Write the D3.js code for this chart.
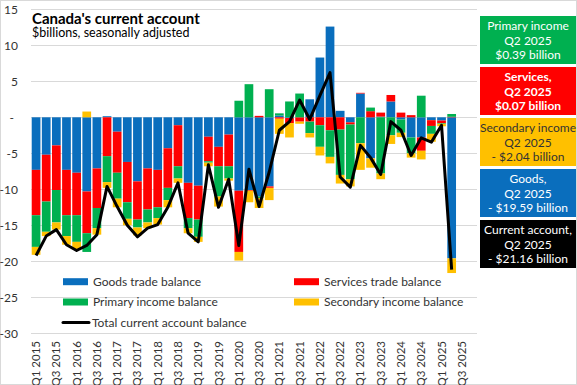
<!doctype html>
<html lang="en">
   <head>
      <meta charset="utf-8">
      <title>Canada's current account</title>
      <script src="https://d3js.org/d3.v7.min.js"></script>
      <style>
         body { margin: 0; background: #fff; }
         svg { display: block; font-family: Lato, "Open Sans", sans-serif; }
      </style>
   </head>
   <body>
      <svg id="chart" width="577" height="385"></svg>
      <script>
      // quarters on the axis (last two have no data yet)
      var quarters = ["Q1 2015", "Q2 2015", "Q3 2015", "Q4 2015", "Q1 2016", "Q2 2016", "Q3 2016", "Q4 2016",
         "Q1 2017", "Q2 2017", "Q3 2017", "Q4 2017", "Q1 2018", "Q2 2018", "Q3 2018", "Q4 2018",
         "Q1 2019", "Q2 2019", "Q3 2019", "Q4 2019", "Q1 2020", "Q2 2020", "Q3 2020", "Q4 2020",
         "Q1 2021", "Q2 2021", "Q3 2021", "Q4 2021", "Q1 2022", "Q2 2022", "Q3 2022", "Q4 2022",
         "Q1 2023", "Q2 2023", "Q3 2023", "Q4 2023", "Q1 2024", "Q2 2024", "Q3 2024", "Q4 2024",
         "Q1 2025", "Q2 2025", "Q3 2025", "Q4 2025"];

      // $ billions, seasonally adjusted
      var goods = [-7.3, -5.2, -3.9, -7.3, -7.7, -10.3, -7.1, 0.15, -2.0, -6.2, -8.9, -7.1, -7.3, -4.3, -1.1, -9.1,
         -9.5, -2.7, -4.1, -2.4, -10.2, -10.1, -11.0, -9.6, 0.25, -0.1, 0.0, 2.5, 8.3, 12.6, 0.9, -0.7,
         3.3, -5.7, 0.1, 2.2, -0.3, -2.8, -2.8, -0.4, -0.45, -19.59];
      var services = [-6.3, -6.5, -6.2, -6.3, -5.9, -5.8, -5.5, -5.4, -5.7, -5.6, -5.3, -5.7, -5.2, -5.5, -5.7, -4.9,
         -4.7, -3.4, -2.7, -4.4, -8.5, -0.1, 0.2, -0.2, -0.2, -0.7, -0.6, -0.6, -1.1, -1.8, -1.7, -0.3,
         0.1, 0.85, 0.55, 0.9, 0.65, 0.3, -1.85, -0.8, -0.35, 0.07];
      var primary = [-4.4, -4.2, -4.5, -2.9, -3.7, -2.6, -2.8, -3.6, -3.6, -2.3, -1.1, -1.8, -1.5, -1.7, -1.7, -1.4,
         -2.4, -0.2, -4.2, -1.7, 2.3, 4.6, -0.2, 3.9, 0.3, 2.2, 3.3, -1.6, -3.0, -3.7, -6.3, -7.6,
         -3.6, 0.5, -7.8, -2.5, -1.85, -2.2, 3.0, -1.1, -0.1, 0.39];
      var secondary = [-1.1, -0.6, -1.0, -1.2, -1.0, 0.8, -0.9, -0.8, -1.2, -0.9, -1.1, -0.8, -0.9, -1.0, -0.6, -0.7,
         -0.7, -0.5, -1.4, -0.3, -1.2, -1.6, -1.4, -1.7, -2.1, -2.0, -0.3, -0.6, -1.2, -0.9, -1.2, -1.0,
         -3.7, -1.3, -0.8, -1.2, -0.6, -0.6, -1.2, -1.1, -0.35, -2.04];
      var total = [-19.2, -16.5, -15.6, -17.7, -18.5, -17.8, -16.3, -9.6, -12.4, -15.0, -16.6, -15.4, -14.9, -12.5, -9.1, -16.1,
         -17.3, -6.6, -12.5, -8.6, -17.8, -7.2, -12.4, -7.6, -1.8, -0.6, 2.4, -0.3, 3.0, 6.2, -8.3, -9.7,
         -3.9, -5.6, -7.95, -0.6, -1.8, -5.3, -2.85, -3.45, -1.1, -21.16];

      var seriesNames = ["Goods trade balance", "Services trade balance", "Primary income balance", "Secondary income balance"];
      var seriesKeys = ["goods", "services", "primary", "secondary"];
      var colors = {goods: "#0A6EBD", services: "#FF0000", primary: "#00B050", secondary: "#FFC000"};
      var yTicks = [15, 10, 5, 0, -5, -10, -15, -20, -25, -30];

      // callout boxes on the right
      var boxKeys = ["primary", "services", "secondary", "goods", "total"];
      var boxLines = [
         ["Primary income", "Q2 2025", "$0.39 billion"],
         ["Services,", "Q2 2025", "$0.07 billion"],
         ["Secondary income", "Q2 2025", "- $2.04 billion"],
         ["Goods,", "Q2 2025", "- $19.59 billion"],
         ["Current account,", "Q2 2025", "- $21.16 billion"]
      ];

      var svg = d3.select("#chart");
      var W = 577, H = 385;

      svg.append("rect").attr("x", 0.5).attr("y", 0.5).attr("width", W - 1).attr("height", H - 1)
         .attr("fill", "#fff").attr("stroke", "#d9d9d9");

      var x = d3.scaleBand().domain(quarters).range([31, 477]).paddingInner(0.14).paddingOuter(0.07);
      var y = d3.scaleLinear().domain([-30, 15]).range([333.3, 9.3]);

      // gridlines
      svg.append("g").selectAll("line").data(yTicks).enter().append("line")
         .attr("x1", 31).attr("x2", 477)
         .attr("y1", function(d) { return Math.round(y(d)) + 0.5; })
         .attr("y2", function(d) { return Math.round(y(d)) + 0.5; })
         .attr("stroke", "#d9d9d9").attr("stroke-width", 1);

      // y labels
      svg.append("g").selectAll("text").data(yTicks).enter().append("text")
         .attr("x", function(d) { return d === 0 ? 14 : 18; })
         .attr("y", function(d) { return y(d); })
         .attr("dy", "0.35em")
         .attr("text-anchor", "end")
         .attr("font-size", 12)
         .attr("fill", "#333")
         .text(function(d) { return d === 0 ? "-" : d; });

      // x labels, every second quarter
      svg.append("g").selectAll("text").data(quarters.filter(function(d, i) { return i % 2 === 0 && i < 43; }))
         .enter().append("text")
         .attr("transform", function(d) {
            return "translate(" + (x(d) + x.bandwidth() / 2 + 4) + ",341) rotate(-90)";
         })
         .attr("text-anchor", "end")
         .attr("font-size", 11.5)
         .attr("fill", "#333")
         .text(function(d) { return d; });

      var table = goods.map(function(g, i) {
         return {q: quarters[i], goods: g, services: services[i], primary: primary[i], secondary: secondary[i]};
      });

      var stack = d3.stack().keys(seriesKeys).offset(d3.stackOffsetDiverging);
      var layers = stack(table);

      svg.append("g").selectAll("g").data(layers).enter().append("g")
         .attr("fill", function(d) { return colors[d.key]; })
         .selectAll("rect").data(function(d) { return d; }).enter().append("rect")
         .attr("x", function(d) { return x(d.data.q); })
         .attr("width", x.bandwidth())
         .attr("y", function(d) { return y(Math.max(d[0], d[1])); })
         .attr("height", function(d) { return Math.abs(y(d[0]) - y(d[1])); });

      var line = d3.line()
         .x(function(d, i) { return x(quarters[i]) + x.bandwidth() / 2; })
         .y(function(d) { return y(d); });

      svg.append("path").datum(total)
         .attr("d", line)
         .attr("fill", "none")
         .attr("stroke", "#000")
         .attr("stroke-width", 3)
         .attr("stroke-linejoin", "round");

      // title
      svg.append("text").attr("x", 32).attr("y", 23.5)
         .attr("font-size", 15).attr("font-weight", "bold").attr("fill", "#000")
         .text("Canada's current account");
      svg.append("text").attr("x", 32).attr("y", 37)
         .attr("font-size", 12.5).attr("fill", "#000")
         .text("$billions, seasonally adjusted");

      // legend
      var legend = svg.append("g").attr("font-size", 12).attr("fill", "#333");
      var legPos = [[63, 281.7], [294, 281.7], [63, 302], [294, 302]];
      seriesKeys.forEach(function(k, i) {
         legend.append("rect").attr("x", legPos[i][0]).attr("y", legPos[i][1] - 3.5)
            .attr("width", 25).attr("height", 7).attr("fill", colors[k]);
         legend.append("text").attr("x", legPos[i][0] + 30).attr("y", legPos[i][1])
            .attr("dy", "0.35em").text(seriesNames[i]);
      });
      legend.append("line").attr("x1", 63).attr("x2", 89).attr("y1", 322.5).attr("y2", 322.5)
         .attr("stroke", "#000").attr("stroke-width", 3).attr("stroke-linecap", "round");
      legend.append("text").attr("x", 92).attr("y", 322.5).attr("dy", "0.35em")
         .text("Total current account balance");

      // callouts
      var boxFill = {primary: "#00B050", services: "#FF0000", secondary: "#FFC000", goods: "#0A6EBD", total: "#000"};
      var boxText = {primary: "#fff", services: "#fff", secondary: "#333", goods: "#fff", total: "#fff"};
      boxKeys.forEach(function(k, i) {
         var top = 16 + i * 51;
         svg.append("rect").attr("x", 480).attr("y", top).attr("width", 96).attr("height", 48)
            .attr("fill", boxFill[k]);
         boxLines[i].forEach(function(t, j) {
            svg.append("text").attr("x", 528).attr("y", top + 10 + j * 14.5)
               .attr("dy", "0.35em").attr("text-anchor", "middle")
               .attr("font-size", 12)
               .attr("font-weight", k === "services" ? "bold" : "normal")
               .attr("fill", boxText[k])
               .text(t);
         });
      });
      </script>
   </body>
</html>
